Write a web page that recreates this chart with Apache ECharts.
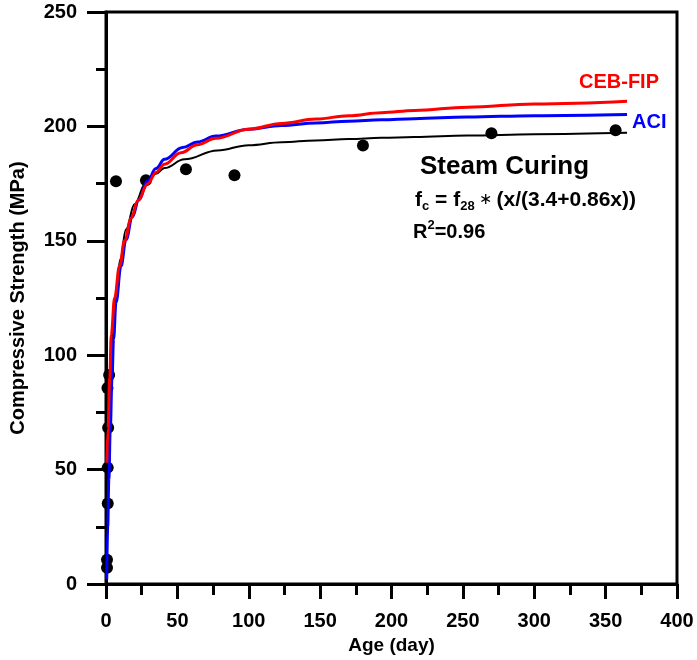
<!DOCTYPE html>
<html>
<head>
<meta charset="utf-8">
<script src="https://cdn.jsdelivr.net/npm/echarts@6/dist/echarts.min.js"></script>
<style>
html,body{margin:0;padding:0;background:#fff;}
#c{width:697px;height:660px;}
</style>
</head>
<body>
<div id="c"></div>
<script>
// Measured data: [age (day), compressive strength (MPa)]
var measured = [
  [0.7, 7.1], [0.7, 10.6], [1.2, 35.2], [1.2, 50.9], [1.5, 68.3], [1.0, 85.7], [2.2, 91.4],
  [7, 176], [28, 176.5], [56, 181.3], [90, 178.7], [180, 191.7], [270, 197], [357, 198.3]
];
// Fitted curve fc = f28*(x/(3.4+0.86x))
var fitCurve = [
  [0.2, 9], [0.5, 21], [1, 40], [2, 66], [3, 86], [5, 111], [7, 127], [10, 142], [14, 155],
  [20, 166], [28, 175.5], [35, 179.3], [41, 181.8], [55, 185.6], [78, 189.5], [100, 191.8], [123, 193.1],
  [147, 193.9], [170, 194.5], [193, 195], [216, 195.4], [253, 196], [300, 196.6], [365, 197.2]
];
// CEB-FIP prediction curve
var cebFip = [
  [0.6, 53], [1.4, 68], [2.6, 90], [3.7, 109], [6, 125], [9.5, 139], [13, 150], [17.7, 160],
  [22.3, 167.5], [29.3, 175], [35, 179.9], [41, 183.5], [52.5, 188.5], [64, 192], [77, 194.8], [100, 198.8],
  [123, 201.3], [147, 203.2], [170, 204.7], [193, 206], [216, 207], [253, 208.4], [300, 209.8], [365, 211]
];
// ACI prediction curve
var aci = [
  [0.5, 2], [1.2, 25], [2, 46], [3, 68], [4.2, 90], [5.3, 107], [7, 123], [10.5, 139], [14, 150.5],
  [18.5, 160.5], [23, 168], [29, 176], [35, 181.6], [41, 185.6], [53.7, 190.8], [64, 193.2], [77, 195.8],
  [100, 198.8], [123, 200.4], [147, 201.5], [170, 202.3], [193, 202.9], [216, 203.4], [253, 204.1],
  [300, 204.7], [365, 205.2]
];

var FONT = '"Liberation Sans", Arial, sans-serif';
var chart = echarts.init(document.getElementById('c'), null, {renderer: 'canvas'});
chart.setOption({
  animation: false,
  backgroundColor: '#ffffff',
  grid: {left: 102, right: 20, top: 12, bottom: 73, show: true, borderColor: '#000', borderWidth: 3, backgroundColor: 'transparent'},
  xAxis: {
    type: 'value', min: 0, max: 400, interval: 50,
    name: 'Age (day)', nameLocation: 'middle', nameGap: 51,
    nameTextStyle: {fontFamily: FONT, fontWeight: 'bold', fontSize: 19, color: '#000'},
    axisLine: {show: true, lineStyle: {color: '#000', width: 3}},
    axisTick: {show: true, inside: false, length: 15, lineStyle: {color: '#000', width: 3}},
    minorTick: {show: true, splitNumber: 2, length: 11, lineStyle: {color: '#000', width: 3}},
    splitLine: {show: false},
    axisLabel: {margin: 27, fontFamily: FONT, fontWeight: 'bold', fontSize: 20, color: '#000'}
  },
  yAxis: {
    type: 'value', min: 0, max: 250, interval: 50,
    name: 'Compressive Strength (MPa)', nameLocation: 'middle', nameGap: 78,
    nameTextStyle: {fontFamily: FONT, fontWeight: 'bold', fontSize: 20, color: '#000'},
    axisLine: {show: true, lineStyle: {color: '#000', width: 3}},
    axisTick: {show: true, inside: false, length: 19, lineStyle: {color: '#000', width: 3}},
    minorTick: {show: true, splitNumber: 2, length: 10, lineStyle: {color: '#000', width: 3}},
    splitLine: {show: false},
    axisLabel: {margin: 29, fontFamily: FONT, fontWeight: 'bold', fontSize: 20, color: '#000'}
  },
  series: [
    {type: 'scatter', name: 'Measured', data: measured, symbol: 'circle', symbolSize: 12,
     itemStyle: {color: '#000', opacity: 1}, z: 2},
    {type: 'line', name: 'Fit', data: fitCurve, showSymbol: false, smooth: 0.4, smoothMonotone: 'x',
     lineStyle: {color: '#000', width: 2}, z: 3},
    {type: 'line', name: 'ACI', data: aci, showSymbol: false, smooth: 0.4, smoothMonotone: 'x',
     lineStyle: {color: '#0000ff', width: 3}, z: 4},
    {type: 'line', name: 'CEB-FIP', data: cebFip, showSymbol: false, smooth: 0.4, smoothMonotone: 'x',
     lineStyle: {color: '#ff0000', width: 3}, z: 5}
  ],
  graphic: [
    {type: 'text', x: 579, y: 82, style: {text: 'CEB-FIP', fill: '#ff0000', align: 'left', verticalAlign: 'middle', font: 'bold 20px ' + FONT}},
    {type: 'text', x: 632, y: 122, style: {text: 'ACI', fill: '#0000ff', align: 'left', verticalAlign: 'middle', font: 'bold 20px ' + FONT}},
    {type: 'text', x: 420, y: 167, style: {text: 'Steam Curing', fill: '#000', align: 'left', verticalAlign: 'middle', font: 'bold 26px ' + FONT}},
    {type: 'text', x: 415, y: 200, style: {
      text: '{b|f}{s|c}{b| = f}{s|28}{a| ∗ }{b|(x/(3.4+0.86x))}',
      align: 'left', verticalAlign: 'middle',
      rich: {
        b: {fontFamily: FONT, fontWeight: 'bold', fontSize: 21, lineHeight: 26, verticalAlign: 'middle', fill: '#000'},
        s: {fontFamily: FONT, fontWeight: 'bold', fontSize: 13, lineHeight: 12, verticalAlign: 'bottom', fill: '#000'},
        a: {fontFamily: FONT, fontWeight: 'normal', fontSize: 16, lineHeight: 26, verticalAlign: 'middle', fill: '#000'}
      }
    }},
    {type: 'text', x: 413, y: 232, style: {
      text: '{b|R}{p|2}{b|=0.96}',
      align: 'left', verticalAlign: 'middle',
      rich: {
        b: {fontFamily: FONT, fontWeight: 'bold', fontSize: 20, lineHeight: 26, verticalAlign: 'middle', fill: '#000'},
        p: {fontFamily: FONT, fontWeight: 'bold', fontSize: 13, lineHeight: 12, verticalAlign: 'top', fill: '#000'}
      }
    }}
  ]
});
</script>
</body>
</html>
